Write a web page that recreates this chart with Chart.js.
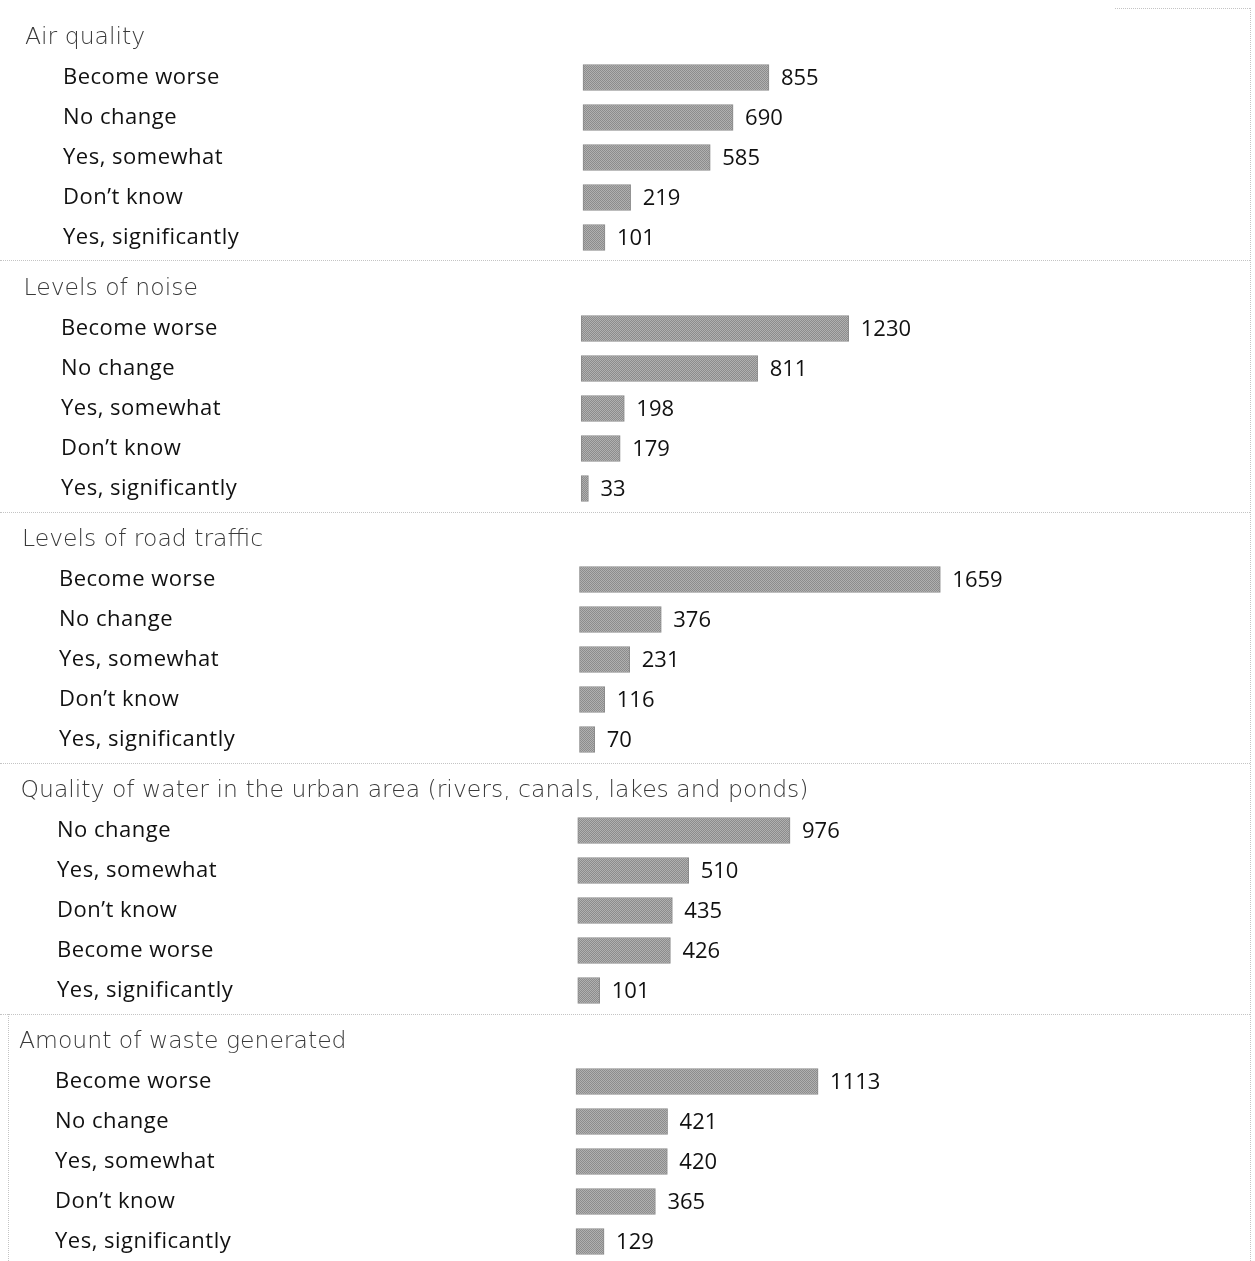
<!DOCTYPE html>
<html>
<head>
<meta charset="utf-8">
<script src="https://cdn.jsdelivr.net/npm/chart.js@4"></script>
<style>
  body { margin: 0; background: #fff; }
  #wrap { position: relative; width: 1255px; height: 1261px; overflow: hidden; }
  .grp { position: absolute; left: 0; width: 1255px; height: 251px; }
  .hline { position: absolute; left: 0; width: 1250px; border-top: 1px dotted #c4c4c4; }
  .vline { position: absolute; border-left: 1px dotted #c4c4c4; }
</style>
</head>
<body>
<div id="wrap">
  <div class="hline" style="top:260px"></div>
  <div class="hline" style="top:512px"></div>
  <div class="hline" style="top:763px"></div>
  <div class="hline" style="top:1014px"></div>
  <div class="hline" style="top:8px;left:1115px;width:135px"></div>
  <div class="vline" style="left:1250px;top:8px;height:1253px"></div>
  <div class="vline" style="left:8px;top:1014px;height:247px"></div>
</div>
<script>
// survey answers, one block per topic
const groupTitles = [
  "Air quality",
  "Levels of noise",
  "Levels of road traffic",
  "Quality of water in the urban area (rivers, canals, lakes and ponds)",
  "Amount of waste generated"
];

const airLabels = ["Become worse", "No change", "Yes, somewhat", "Don\u2019t know", "Yes, significantly"];
const airValues = [855, 690, 585, 219, 101];

const noiseLabels = ["Become worse", "No change", "Yes, somewhat", "Don\u2019t know", "Yes, significantly"];
const noiseValues = [1230, 811, 198, 179, 33];

const trafficLabels = ["Become worse", "No change", "Yes, somewhat", "Don\u2019t know", "Yes, significantly"];
const trafficValues = [1659, 376, 231, 116, 70];

const waterLabels = ["No change", "Yes, somewhat", "Don\u2019t know", "Become worse", "Yes, significantly"];
const waterValues = [976, 510, 435, 426, 101];

const wasteLabels = ["Become worse", "No change", "Yes, somewhat", "Don\u2019t know", "Yes, significantly"];
const wasteValues = [1113, 421, 420, 365, 129];

const groupLabels = [airLabels, noiseLabels, trafficLabels, waterLabels, wasteLabels];
const groupValues = [airValues, noiseValues, trafficValues, waterValues, wasteValues];

const xMax = 2400;

// small dithered fill to look like the scanned bars
function barPattern() {
  const c = document.createElement("canvas");
  c.width = 2;
  c.height = 2;
  const g = c.getContext("2d");
  g.fillStyle = "#b0b0b0";
  g.fillRect(0, 0, 2, 2);
  g.fillStyle = "#8c8c8c";
  g.fillRect(0, 0, 1, 1);
  g.fillRect(1, 1, 1, 1);
  return g.createPattern(c, "repeat");
}

// row texts: topic title, answer label and value next to the bar
const rowText = {
  id: "rowText",
  afterDatasetsDraw(chart, args, opts) {
    const ctx = chart.ctx;
    const yScale = chart.scales.y;
    const meta = chart.getDatasetMeta(0);
    const data = chart.data.datasets[0].data;
    ctx.save();
    ctx.textBaseline = "middle";
    ctx.textAlign = "left";
    chart.data.labels.forEach((lab, i) => {
      const py = yScale.getPixelForValue(i);
      if (i === 0) {
        ctx.font = "200 23.5px 'DejaVu Sans'";
        ctx.letterSpacing = "0px";
        ctx.fillStyle = "#3a3a3a";
        ctx.fillText(lab, opts.headX, py);
      } else {
        ctx.font = "400 22px 'Open Sans'";
        ctx.fillStyle = "#111";
        ctx.letterSpacing = "0.5px";
        ctx.fillText(lab, opts.labelX, py);
        ctx.letterSpacing = "0px";
        ctx.fillText(String(data[i]), meta.data[i].x + 12, py + 1);
      }
    });
    ctx.restore();
  }
};

const wrap = document.getElementById("wrap");
const fill = barPattern();

groupTitles.map((title, g) => {
  const box = document.createElement("div");
  box.className = "grp";
  box.style.top = (251 * g) + "px";
  const canvas = document.createElement("canvas");
  canvas.width = 1255;
  canvas.height = 251;
  box.appendChild(canvas);
  wrap.appendChild(box);

  const x0 = 583 - 1.75 * g;
  const plotWidth = 522;

  new Chart(canvas, {
    type: "bar",
    data: {
      labels: [title].concat(groupLabels[g]),
      datasets: [
        {
          data: [null].concat(groupValues[g]),
          backgroundColor: fill,
          borderColor: "#8a8a8a",
          borderWidth: 1,
          borderSkipped: false,
          barThickness: 26,
          clip: false,
        },
      ],
    },
    options: {
      indexAxis: "y",
      responsive: false,
      animation: false,
      layout: {
        padding: { left: x0, right: 1255 - x0 - plotWidth, top: 37.5, bottom: 13.5 },
      },
      scales: {
        x: { display: false, min: 0, max: xMax },
        y: { display: false, offset: false },
      },
      plugins: {
        legend: { display: false },
        tooltip: { enabled: false },
        rowText: { headX: 25 - 1.5 * g, labelX: 63 - 2 * g },
      },
    },
    plugins: [rowText],
  });
});
</script>
</body>
</html>
